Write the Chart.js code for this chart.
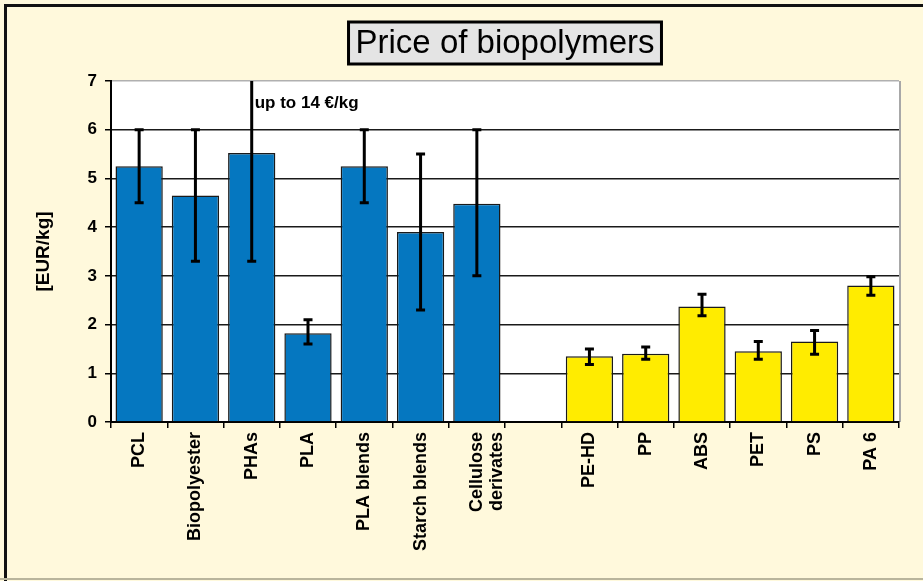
<!DOCTYPE html>
<html>
<head>
<meta charset="utf-8">
<script src="https://cdn.jsdelivr.net/npm/chart.js@4.4.0/dist/chart.umd.min.js"></script>
<style>
  html, body { margin: 0; padding: 0; background: #fff9dc; }
  canvas { display: block; }
</style>
</head>
<body>
<canvas id="priceChart" width="923" height="581"></canvas>
<script>
// biopolymers
const bioLabels = ['PCL', 'Biopolyester', 'PHAs', 'PLA', 'PLA blends', 'Starch blends', ['Cellulose', 'derivates']];
const bioPrices = [5.25, 4.65, 5.52, 1.82, 5.25, 3.9, 4.48];
const bioLow = [4.5, 3.3, 3.3, 1.6, 4.5, 2.3, 3.0];
const bioHigh = [6.0, 6.0, 14, 2.1, 6.0, 5.5, 6.0];

// standard plastics
const stdLabels = ['PE-HD', 'PP', 'ABS', 'PET', 'PS', 'PA 6'];
const stdPrices = [1.35, 1.4, 2.37, 1.45, 1.65, 2.8];
const stdLow = [1.18, 1.29, 2.18, 1.29, 1.39, 2.6];
const stdHigh = [1.5, 1.54, 2.62, 1.65, 1.88, 2.98];

const yTicks = [0, 1, 2, 3, 4, 5, 6, 7];
const chartTitle = 'Price of biopolymers';
const axisTitle = '[EUR/kg]';
const noteText = 'up to 14 €/kg';
const noteValue = 6.55;

const BLUE = '#0577c0';
const YELLOW = '#ffec00';
const FONT = '"Liberation Sans", Arial, sans-serif';

// one empty slot between the two groups
const labels = [...bioLabels, '', ...stdLabels];
const prices = [...bioPrices, null, ...stdPrices];
const lows = [...bioLow, null, ...stdLow];
const highs = [...bioHigh, null, ...stdHigh];
const colors = [...bioPrices.map(() => BLUE), 'transparent', ...stdPrices.map(() => YELLOW)];

const frame = {
    id: 'frame',
    beforeDraw(chart) {
        const { ctx, chartArea: a, width, height } = chart;
        ctx.save();
        ctx.fillStyle = '#fff9dc';
        ctx.fillRect(0, 0, width, height);
        // outer border (top + left), faint bottom line
        ctx.fillStyle = '#111';
        ctx.fillRect(4, 4, width - 4, 3);
        ctx.fillRect(4, 4, 3, height - 4);
        ctx.fillStyle = '#b9b59c';
        ctx.fillRect(0, height - 3, width, 2);
        // plot area
        ctx.fillStyle = '#ffffff';
        ctx.fillRect(a.left, a.top, a.right - a.left, a.bottom - a.top);
        ctx.fillStyle = '#a8a8a8';
        ctx.fillRect(a.right, a.top, 2, a.bottom - a.top);

        // title box
        ctx.font = '33px ' + FONT;
        const tw = ctx.measureText(chartTitle).width;
        const cx = (a.left + a.right) / 2;
        const bw = tw + 14;
        ctx.fillStyle = '#e4e4e4';
        ctx.fillRect(cx - bw / 2, 22, bw, 42);
        ctx.strokeStyle = '#000';
        ctx.lineWidth = 3;
        ctx.strokeRect(cx - bw / 2, 22, bw, 42);
        ctx.fillStyle = '#000';
        ctx.textAlign = 'center';
        ctx.textBaseline = 'middle';
        ctx.fillText(chartTitle, cx, 44);
        ctx.restore();
    }
};

const errorBars = {
    id: 'errorBars',
    afterDatasetsDraw(chart) {
        const { ctx, chartArea: a } = chart;
        const y = chart.scales.y;
        const meta = chart.getDatasetMeta(0);
        ctx.save();
        ctx.beginPath();
        ctx.rect(a.left, a.top, a.right - a.left, a.bottom - a.top);
        ctx.clip();
        ctx.strokeStyle = '#000';
        ctx.lineWidth = 3;
        lows.forEach((lo, i) => {
            if (lo == null) return;
            const cx = meta.data[i].x;
            const yLo = y.getPixelForValue(lo);
            const yHi = y.getPixelForValue(highs[i]);
            ctx.beginPath();
            ctx.moveTo(cx, yLo);
            ctx.lineTo(cx, yHi);
            ctx.moveTo(cx - 4.5, yLo);
            ctx.lineTo(cx + 4.5, yLo);
            ctx.moveTo(cx - 4.5, yHi);
            ctx.lineTo(cx + 4.5, yHi);
            ctx.stroke();
        });
        ctx.restore();

        // note next to the PHAs bar
        ctx.save();
        ctx.font = 'bold 17px ' + FONT;
        ctx.fillStyle = '#000';
        ctx.textAlign = 'left';
        ctx.textBaseline = 'middle';
        ctx.fillText(noteText, meta.data[2].x + 3, y.getPixelForValue(noteValue));
        ctx.restore();
    }
};

new Chart(document.getElementById('priceChart'), {
    type: 'bar',
    data: {
        labels: labels,
        datasets: [{
            data: prices,
            backgroundColor: colors,
            borderColor: '#1a1a1a',
            borderWidth: 1.5,
            barPercentage: 0.84,
            categoryPercentage: 1
        }]
    },
    options: {
        responsive: false,
        animation: false,
        layout: { padding: { top: 81, right: 24, left: 0, bottom: 0 } },
        plugins: {
            legend: { display: false },
            tooltip: { enabled: false }
        },
        scales: {
            x: {
                afterFit: s => { s.height = 159; },
                grid: {
                    offset: true,
                    drawOnChartArea: false,
                    tickLength: 6,
                    color: '#000',
                    lineWidth: 1.5
                },
                border: { color: '#000', width: 2 },
                ticks: {
                    autoSkip: false,
                    minRotation: 90,
                    maxRotation: 90,
                    padding: 4,
                    color: '#000',
                    font: { family: FONT, size: 18, weight: 'bold', lineHeight: 1.1 }
                }
            },
            y: {
                min: 0,
                max: 7,
                afterFit: s => { s.width = 111; },
                afterBuildTicks: s => { s.ticks = yTicks.map(v => ({ value: v })); },
                grid: {
                    color: c => (c.tick && c.tick.value === 7 ? '#b0b0b0' : '#1a1a1a'),
                    tickColor: '#000',
                    lineWidth: 1.5,
                    tickLength: 6
                },
                border: { color: '#000', width: 2 },
                ticks: {
                    padding: 8,
                    color: '#000',
                    font: { family: FONT, size: 17, weight: 'bold' }
                },
                title: {
                    display: true,
                    text: axisTitle,
                    color: '#000',
                    padding: { top: 32 },
                    font: { family: FONT, size: 19, weight: 'bold' }
                }
            }
        }
    },
    plugins: [frame, errorBars]
});
</script>
</body>
</html>
